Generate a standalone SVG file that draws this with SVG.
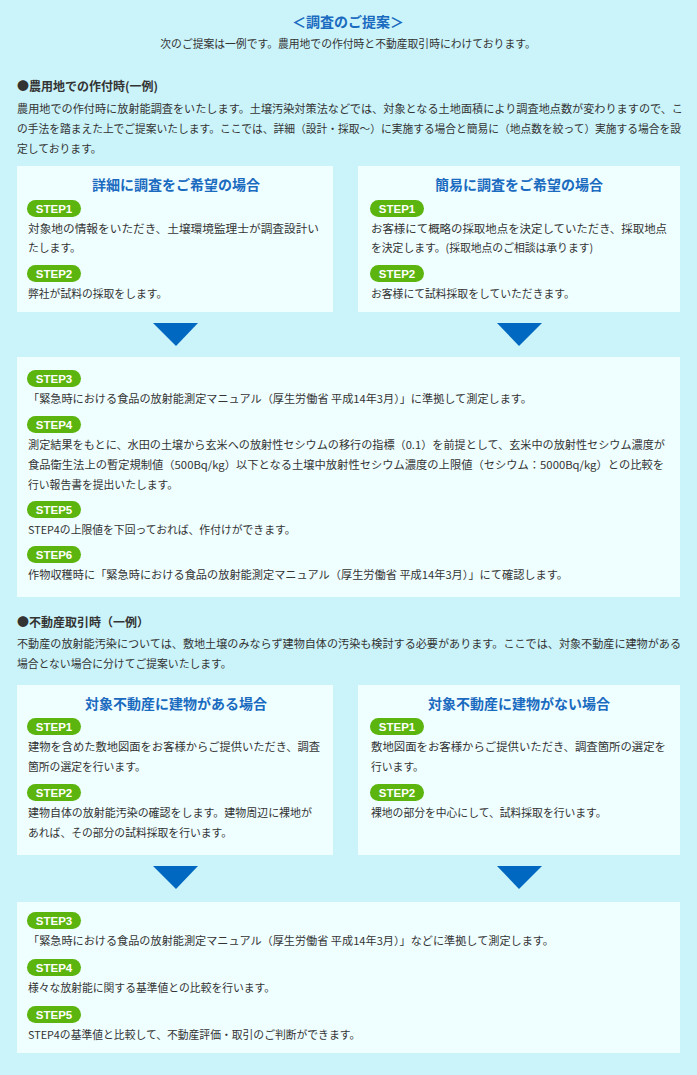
<svg xmlns="http://www.w3.org/2000/svg" width="697" height="1075" viewBox="0 0 697 1075">
<style>
text{font-family:"Noto Sans CJK JP","Noto Sans",sans-serif;fill:#333;font-size:10.8px}
.t{font-size:14px;font-weight:bold;fill:#1a6bbf;text-anchor:middle}
.h{font-size:12px;font-weight:bold}
.box{fill:#effeff}
.b rect{fill:#5bb50e}
.b text{fill:#fff;font-weight:bold;font-size:11.5px;font-family:"Liberation Sans",sans-serif}
.tri{fill:#0068c0}
</style>
<defs>
<g id="b1" class="b"><rect width="54" height="17" rx="8.5"/><text x="27" y="13" text-anchor="middle">STEP1</text></g>
<g id="b2" class="b"><rect width="54" height="17" rx="8.5"/><text x="27" y="13" text-anchor="middle">STEP2</text></g>
<g id="b3" class="b"><rect width="54" height="17" rx="8.5"/><text x="27" y="13" text-anchor="middle">STEP3</text></g>
<g id="b4" class="b"><rect width="54" height="17" rx="8.5"/><text x="27" y="13" text-anchor="middle">STEP4</text></g>
<g id="b5" class="b"><rect width="54" height="17" rx="8.5"/><text x="27" y="13" text-anchor="middle">STEP5</text></g>
<g id="b6" class="b"><rect width="54" height="17" rx="8.5"/><text x="27" y="13" text-anchor="middle">STEP6</text></g>
</defs>
<rect width="697" height="1075" fill="#cbf3fa"/>
<text class="t" x="348" y="27">＜調査のご提案＞</text>
<text x="348" y="48" text-anchor="middle">次のご提案は一例です。農用地での作付時と不動産取引時にわけております。</text>
<text class="h" x="17" y="91">●農用地での作付時(一例)</text>
<text x="17" y="113" textLength="666" lengthAdjust="spacingAndGlyphs">農用地での作付時に放射能調査をいたします。土壌汚染対策法などでは、対象となる土地面積により調査地点数が変わりますので、こ</text>
<text x="17" y="133" textLength="664" lengthAdjust="spacingAndGlyphs">の手法を踏まえた上でご提案いたします。ここでは、詳細（設計・採取～）に実施する場合と簡易に（地点数を絞って）実施する場合を設</text>
<text x="17" y="153">定しております。</text>
<g id="n1"><rect class="box" x="17" y="166" width="316" height="146"/>
<text class="t" x="176" y="190">詳細に調査をご希望の場合</text>
<use href="#b1" x="27" y="200"/><text x="28" y="233" textLength="291" lengthAdjust="spacingAndGlyphs">対象地の情報をいただき、土壌環境監理士が調査設計い</text><text x="28" y="252">たします。</text>
<use href="#b2" x="27" y="265"/><text x="28" y="298">弊社が試料の採取をします。</text></g>
<g id="n2"><rect class="box" x="358" y="166" width="322" height="146"/>
<text class="t" x="519" y="190">簡易に調査をご希望の場合</text>
<use href="#b1" x="370" y="200"/><text x="371" y="233" textLength="296" lengthAdjust="spacingAndGlyphs">お客様にて概略の採取地点を決定していただき、採取地点</text><text x="371" y="252">を決定します。(採取地点のご相談は承ります)</text>
<use href="#b2" x="370" y="265"/><text x="371" y="298">お客様にて試料採取をしていただきます。</text></g>
<g id="connectors">
<polygon class="tri" points="153,323 198,323 176,346"/>
<polygon class="tri" points="497,323 542,323 519,346"/>
<polygon class="tri" points="153,866 198,866 176,889"/>
<polygon class="tri" points="497,866 542,866 519,889"/>
</g>
<g id="n3"><rect class="box" x="17" y="357" width="663" height="240"/>
<use href="#b3" x="27" y="370"/><text x="28" y="403" textLength="504" lengthAdjust="spacingAndGlyphs">「緊急時における食品の放射能測定マニュアル（厚生労働省 平成14年3月）」に準拠して測定します。</text>
<use href="#b4" x="27" y="416"/><text x="28" y="449" textLength="637" lengthAdjust="spacingAndGlyphs">測定結果をもとに、水田の土壌から玄米への放射性セシウムの移行の指標（0.1）を前提として、玄米中の放射性セシウム濃度が</text>
<text x="28" y="469" textLength="636" lengthAdjust="spacingAndGlyphs">食品衛生法上の暫定規制値（500Bq/kg）以下となる土壌中放射性セシウム濃度の上限値（セシウム：5000Bq/kg）との比較を</text>
<text x="28" y="489">行い報告書を提出いたします。</text>
<use href="#b5" x="27" y="501"/><text x="28" y="534">STEP4の上限値を下回っておれば、作付けができます。</text>
<use href="#b6" x="27" y="546"/><text x="28" y="579" textLength="540" lengthAdjust="spacingAndGlyphs">作物収穫時に「緊急時における食品の放射能測定マニュアル（厚生労働省 平成14年3月）」にて確認します。</text></g>
<text class="h" x="17" y="627">●不動産取引時（一例）</text>
<text x="17" y="648" textLength="664" lengthAdjust="spacingAndGlyphs">不動産の放射能汚染については、敷地土壌のみならず建物自体の汚染も検討する必要があります。ここでは、対象不動産に建物がある</text>
<text x="17" y="668">場合とない場合に分けてご提案いたします。</text>
<g id="n4"><rect class="box" x="17" y="685" width="316" height="170"/>
<text class="t" x="176" y="709">対象不動産に建物がある場合</text>
<use href="#b1" x="27" y="718"/><text x="28" y="751" textLength="292" lengthAdjust="spacingAndGlyphs">建物を含めた敷地図面をお客様からご提供いただき、調査</text><text x="28" y="771">箇所の選定を行います。</text>
<use href="#b2" x="27" y="784"/><text x="28" y="817" textLength="284" lengthAdjust="spacingAndGlyphs">建物自体の放射能汚染の確認をします。建物周辺に裸地が</text><text x="28" y="837">あれば、その部分の試料採取を行います。</text></g>
<g id="n5"><rect class="box" x="358" y="685" width="322" height="170"/>
<text class="t" x="519" y="709">対象不動産に建物がない場合</text>
<use href="#b1" x="370" y="718"/><text x="371" y="751" textLength="295" lengthAdjust="spacingAndGlyphs">敷地図面をお客様からご提供いただき、調査箇所の選定を</text><text x="371" y="771">行います。</text>
<use href="#b2" x="370" y="784"/><text x="371" y="817">裸地の部分を中心にして、試料採取を行います。</text></g>
<g id="n6"><rect class="box" x="17" y="902" width="663" height="151"/>
<use href="#b3" x="27" y="912"/><text x="28" y="945" textLength="526" lengthAdjust="spacingAndGlyphs">「緊急時における食品の放射能測定マニュアル（厚生労働省 平成14年3月）」などに準拠して測定します。</text>
<use href="#b4" x="27" y="959"/><text x="28" y="992">様々な放射能に関する基準値との比較を行います。</text>
<use href="#b5" x="27" y="1006"/><text x="28" y="1039">STEP4の基準値と比較して、不動産評価・取引のご判断ができます。</text></g>
</svg>
